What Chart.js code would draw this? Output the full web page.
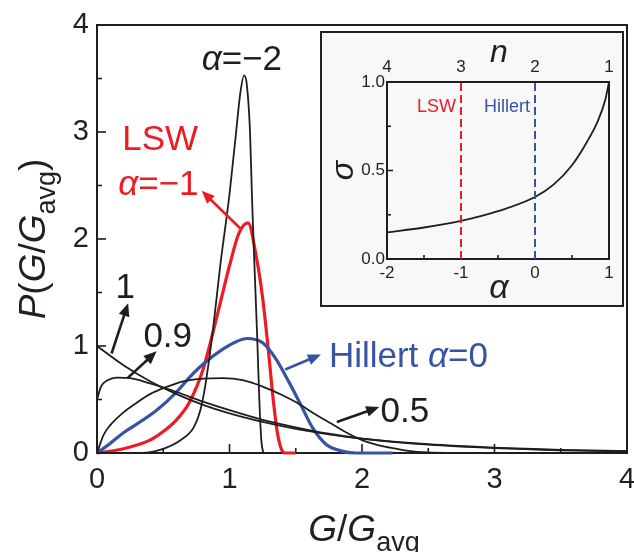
<!DOCTYPE html>
<html>
<head>
<meta charset="utf-8">
<script src="https://cdn.jsdelivr.net/npm/chart.js@4"></script>
<style>
body{margin:0;background:#fff;}
#wrap{position:relative;width:634px;height:552px;}
#inset{position:absolute;left:320px;top:31px;width:304px;height:276px;border:2px solid #222;background:#f8f8f8;box-sizing:border-box;}
#inset canvas{position:absolute;left:0;top:0;}
</style>
</head>
<body>
<div id="wrap">
  <canvas id="main" width="634" height="552"></canvas>
  <div id="inset"><canvas id="ins" width="300" height="272"></canvas></div>
</div>
<script>
'use strict'

// main plot: G/Gavg vs P(G/Gavg)
const g_m2 = [0, 0.3, 0.475, 0.63, 0.73, 0.78, 0.82, 0.875, 0.93, 1.0, 1.05, 1.08, 1.11, 1.13, 1.155, 1.17, 1.19, 1.21, 1.225, 1.24, 1.255];
const p_m2 = [0, 0.0, 0.03, 0.12, 0.24, 0.40, 0.65, 1.15, 1.75, 2.42, 3.0, 3.35, 3.53, 3.45, 3.0, 2.38, 1.7, 1.05, 0.5, 0.12, 0];

const g_lsw = [0, 0.2, 0.4, 0.5, 0.6, 0.7, 0.8, 0.9, 1.0, 1.07, 1.14, 1.2, 1.25, 1.29, 1.33, 1.36, 1.39, 1.42, 1.5];
const p_lsw = [0, 0.04, 0.12, 0.2, 0.31, 0.48, 0.78, 1.25, 1.75, 2.05, 2.15, 1.85, 1.45, 1.0, 0.5, 0.2, 0.04, 0, 0];

const g_hil = [0, 0.1, 0.2, 0.3, 0.45, 0.6, 0.7, 0.8, 0.95, 1.05, 1.13, 1.25, 1.35, 1.45, 1.53, 1.63, 1.73, 1.84, 1.95, 2.23];
const p_hil = [0, 0.09, 0.19, 0.27, 0.40, 0.57, 0.71, 0.83, 0.97, 1.04, 1.07, 1.03, 0.88, 0.66, 0.47, 0.23, 0.08, 0.02, 0, 0];

const g_05 = [0, 0.05, 0.1, 0.2, 0.3, 0.4, 0.53, 0.65, 0.8, 0.95, 1.1, 1.25, 1.4, 1.51, 1.65, 1.76, 1.9, 2.0, 2.1, 2.21, 2.35, 2.5, 2.7];
const p_05 = [0, 0.17, 0.26, 0.38, 0.47, 0.55, 0.62, 0.67, 0.695, 0.70, 0.68, 0.62, 0.54, 0.47, 0.36, 0.28, 0.18, 0.12, 0.08, 0.05, 0.02, 0.005, 0];

const g_09 = [0, 0.03, 0.08, 0.15, 0.25, 0.4, 0.6, 0.8, 1.0, 1.25, 1.5, 1.75, 2.0, 2.5, 3.0, 3.5, 4.0];
const p_09 = [0.5, 0.62, 0.68, 0.705, 0.70, 0.65, 0.57, 0.48, 0.40, 0.31, 0.24, 0.18, 0.135, 0.078, 0.045, 0.025, 0.014];

const g_1 = [0, 0.2, 0.4, 0.6, 0.8, 1.0, 1.25, 1.5, 1.75, 2.0, 2.5, 3.0, 3.5, 4.0];
const p_1 = [1.0, 0.82, 0.67, 0.55, 0.45, 0.37, 0.29, 0.225, 0.175, 0.135, 0.082, 0.05, 0.03, 0.018];

// inset: sigma vs alpha
const alphaVals = [-2, -1.5, -1, -0.5, 0, 0.25, 0.5, 0.7, 0.85, 0.95, 1.0];
const sigmaVals = [0.15, 0.178, 0.215, 0.27, 0.35, 0.42, 0.53, 0.66, 0.78, 0.9, 1.0];
const lswAlpha = -1, hillertAlpha = 0;
const nLabels = ['4', '3', '2', '1'];

const FONT = '"Liberation Sans", Arial, sans-serif';
const BLACK = '#1e1e1e', RED = '#ed1c24', BLUE = '#3953a4', TXT = '#231f20';

const pts = (xs, ys) => xs.map((x, i) => ({x: x, y: ys[i]}));

function rich(ctx, parts, x, y, size, color, align) {
    let w = 0;
    const seg = parts.map(p => {
        const s = p.sub ? Math.round(size * 0.72) : size;
        const f = (p.it ? 'italic ' : '') + s + 'px ' + FONT;
        ctx.font = f;
        const m = ctx.measureText(p.t).width;
        w += m;
        return {t: p.t, f: f, w: m, dy: p.sub ? size * 0.28 : 0};
    });
    let cx = align === 'center' ? x - w / 2 : align === 'right' ? x - w : x;
    ctx.fillStyle = color;
    ctx.textAlign = 'left';
    ctx.textBaseline = 'alphabetic';
    seg.forEach(s => { ctx.font = s.f; ctx.fillText(s.t, cx, y + s.dy); cx += s.w; });
}

function arrow(ctx, x1, y1, x2, y2, color, lw, hl, hw) {
    const a = Math.atan2(y2 - y1, x2 - x1);
    const bx = x2 - hl * Math.cos(a), by = y2 - hl * Math.sin(a);
    ctx.strokeStyle = color; ctx.fillStyle = color; ctx.lineWidth = lw;
    ctx.beginPath(); ctx.moveTo(x1, y1); ctx.lineTo(bx + Math.cos(a) * 2, by + Math.sin(a) * 2); ctx.stroke();
    ctx.beginPath();
    ctx.moveTo(x2, y2);
    ctx.lineTo(bx + hw / 2 * Math.sin(a), by - hw / 2 * Math.cos(a));
    ctx.lineTo(bx - hw / 2 * Math.sin(a), by + hw / 2 * Math.cos(a));
    ctx.closePath(); ctx.fill();
}

function inwardTicks(chart, xs, ys) {
    const ctx = chart.ctx, ca = chart.chartArea;
    const sx = chart.scales.x, sy = chart.scales.y;
    ctx.save();
    ctx.strokeStyle = BLACK; ctx.lineWidth = 1.6;
    xs.forEach(t => {
        const px = sx.getPixelForValue(t.v);
        ctx.beginPath(); ctx.moveTo(px, ca.bottom); ctx.lineTo(px, ca.bottom - t.len); ctx.stroke();
    });
    ys.forEach(t => {
        const py = sy.getPixelForValue(t.v);
        ctx.beginPath(); ctx.moveTo(ca.left, py); ctx.lineTo(ca.left + t.len, py); ctx.stroke();
    });
    ctx.restore();
}

function tickList(min, max, step, major, lenMaj, lenMin) {
    const out = [];
    for (let v = min; v <= max + 1e-9; v += step) {
        const isMaj = Math.abs(v / major - Math.round(v / major)) < 1e-6;
        out.push({v: v, len: isMaj ? lenMaj : lenMin});
    }
    return out;
}

// labels and arrows placed in data units
const notes = [
    {parts: [{t: 'α', it: 1}, {t: '=−2'}], x: 0.79, y: 3.58, color: BLACK},
    {parts: [{t: 'LSW'}], x: 0.19, y: 2.83, color: RED},
    {parts: [{t: 'α', it: 1}, {t: '=−1'}], x: 0.16, y: 2.41, color: RED},
    {parts: [{t: '1'}], x: 0.14, y: 1.45, color: BLACK},
    {parts: [{t: '0.9'}], x: 0.35, y: 0.99, color: BLACK},
    {parts: [{t: 'Hillert '}, {t: 'α', it: 1}, {t: '=0'}], x: 1.75, y: 0.80, color: BLUE},
    {parts: [{t: '0.5'}], x: 2.14, y: 0.29, color: BLACK}
];
const arrows = [
    {x1: 1.08, y1: 2.10, x2: 0.79, y2: 2.45, color: RED},
    {x1: 0.11, y1: 0.93, x2: 0.235, y2: 1.40, color: BLACK},
    {x1: 0.23, y1: 0.70, x2: 0.45, y2: 0.95, color: BLACK},
    {x1: 1.42, y1: 0.78, x2: 1.69, y2: 0.92, color: BLUE},
    {x1: 1.81, y1: 0.29, x2: 2.13, y2: 0.43, color: BLACK}
];

const mainDecor = {
    id: 'mainDecor',
    beforeDatasetsDraw(chart) {
        const ctx = chart.ctx, ca = chart.chartArea;
        ctx.save();
        ctx.strokeStyle = BLACK; ctx.lineWidth = 2;
        ctx.strokeRect(ca.left, ca.top, ca.right - ca.left, ca.bottom - ca.top);
        ctx.restore();
        inwardTicks(chart, tickList(0, 4, 0.5, 1, 9, 5), tickList(0, 4, 0.5, 1, 9, 5));
    },
    afterDatasetsDraw(chart) {
        const ctx = chart.ctx, ca = chart.chartArea;
        const sx = chart.scales.x, sy = chart.scales.y;
        ctx.save();
        notes.forEach(n => rich(ctx, n.parts, sx.getPixelForValue(n.x), sy.getPixelForValue(n.y), 35, n.color, 'left'));
        arrows.forEach(a => arrow(ctx, sx.getPixelForValue(a.x1), sy.getPixelForValue(a.y1),
            sx.getPixelForValue(a.x2), sy.getPixelForValue(a.y2), a.color, 2.6, 13, 11));
        // axis titles
        const title = [{t: 'G', it: 1}, {t: '/'}, {t: 'G', it: 1}, {t: 'avg', sub: 1}];
        rich(ctx, title, (ca.left + ca.right) / 2 + 2, 541, 37, TXT, 'center');
        ctx.translate(45, (ca.top + ca.bottom) / 2);
        ctx.rotate(-Math.PI / 2);
        rich(ctx, [{t: 'P', it: 1}, {t: '('}].concat(title, [{t: ')'}]), 0, 0, 37, TXT, 'center');
        ctx.restore();
    }
};

const line = (data, color, w) => ({
    data: data, borderColor: color, borderWidth: w, pointRadius: 0,
    cubicInterpolationMode: 'monotone', fill: false, clip: 4
});

new Chart(document.getElementById('main').getContext('2d'), {
    type: 'line',
    data: {
        datasets: [
            line(pts(g_1, p_1), BLACK, 1.8),
            line(pts(g_09, p_09), BLACK, 1.8),
            line(pts(g_05, p_05), BLACK, 1.8),
            line(pts(g_m2, p_m2), BLACK, 1.8),
            line(pts(g_hil, p_hil), BLUE, 3.2),
            line(pts(g_lsw, p_lsw), RED, 3.2)
        ]
    },
    options: {
        responsive: false,
        animation: false,
        layout: {padding: {left: 0, top: 25, right: 7, bottom: 0}},
        plugins: {legend: {display: false}, tooltip: {enabled: false}},
        scales: {
            x: {
                type: 'linear', min: 0, max: 4,
                ticks: {stepSize: 1, padding: 10, color: TXT, font: {size: 29, family: FONT}},
                grid: {display: false, drawTicks: false}, border: {display: false},
                afterFit: s => { s.height = 99; s.paddingRight = 0; s.paddingLeft = 0; }
            },
            y: {
                type: 'linear', min: 0, max: 4,
                ticks: {stepSize: 1, padding: 8, color: TXT, font: {size: 29, family: FONT}},
                grid: {display: false, drawTicks: false}, border: {display: false},
                afterFit: s => { s.width = 97; s.paddingTop = 0; s.paddingBottom = 0; }
            }
        }
    },
    plugins: [mainDecor]
});

// inset
const insetDecor = {
    id: 'insetDecor',
    beforeDatasetsDraw(chart) {
        const ctx = chart.ctx, ca = chart.chartArea;
        ctx.save();
        ctx.strokeStyle = BLACK; ctx.lineWidth = 2;
        ctx.strokeRect(ca.left, ca.top, ca.right - ca.left, ca.bottom - ca.top);
        ctx.restore();
        inwardTicks(chart, tickList(-2, 1, 0.5, 1, 6, 4), tickList(0, 1, 0.25, 0.5, 6, 4));
    },
    afterDatasetsDraw(chart) {
        const ctx = chart.ctx, ca = chart.chartArea;
        const sx = chart.scales.x, sy = chart.scales.y;
        ctx.save();
        rich(ctx, [{t: 'LSW'}], sx.getPixelForValue(lswAlpha) - 5, sy.getPixelForValue(0.83), 18, RED, 'right');
        rich(ctx, [{t: 'Hillert'}], sx.getPixelForValue(hillertAlpha) - 5, sy.getPixelForValue(0.83), 18, BLUE, 'right');
        const cx = (ca.left + ca.right) / 2 + 1;
        rich(ctx, [{t: 'n', it: 1}], cx, 29, 32, TXT, 'center');
        rich(ctx, [{t: 'α', it: 1}], cx, 265, 34, TXT, 'center');
        ctx.translate(31, (ca.top + ca.bottom) / 2);
        ctx.rotate(-Math.PI / 2);
        rich(ctx, [{t: 'σ', it: 1}], 0, 0, 32, TXT, 'center');
        ctx.restore();
    }
};

const smallTicks = {color: TXT, font: {size: 17, family: FONT}};

new Chart(document.getElementById('ins').getContext('2d'), {
    type: 'line',
    data: {
        datasets: [
            {data: pts([lswAlpha, lswAlpha], [0, 1]), borderColor: RED, borderWidth: 2, borderDash: [8, 4], pointRadius: 0},
            {data: pts([hillertAlpha, hillertAlpha], [0, 1]), borderColor: BLUE, borderWidth: 2, borderDash: [8, 4], pointRadius: 0},
            {data: pts(alphaVals, sigmaVals), borderColor: BLACK, borderWidth: 1.8, pointRadius: 0, cubicInterpolationMode: 'monotone'}
        ]
    },
    options: {
        responsive: false,
        animation: false,
        layout: {padding: {left: 0, top: 0, right: 13, bottom: 0}},
        plugins: {legend: {display: false}, tooltip: {enabled: false}},
        scales: {
            x: {
                type: 'linear', min: -2, max: 1,
                ticks: Object.assign({stepSize: 1, padding: 4}, smallTicks),
                grid: {display: false, drawTicks: false}, border: {display: false},
                afterFit: s => { s.height = 46; s.paddingRight = 0; s.paddingLeft = 0; }
            },
            xTop: {
                type: 'linear', position: 'top', min: -2, max: 1,
                ticks: Object.assign({stepSize: 1, padding: 4, callback: (v, i) => nLabels[i]}, smallTicks),
                grid: {display: false, drawTicks: false}, border: {display: false},
                afterFit: s => { s.height = 49; s.paddingRight = 0; s.paddingLeft = 0; }
            },
            y: {
                type: 'linear', min: 0, max: 1,
                ticks: Object.assign({stepSize: 0.5, padding: 2, callback: v => v.toFixed(1)}, smallTicks),
                grid: {display: false, drawTicks: false}, border: {display: false},
                afterFit: s => { s.width = 65; s.paddingTop = 0; s.paddingBottom = 0; }
            }
        }
    },
    plugins: [insetDecor]
});
</script>
</body>
</html>
